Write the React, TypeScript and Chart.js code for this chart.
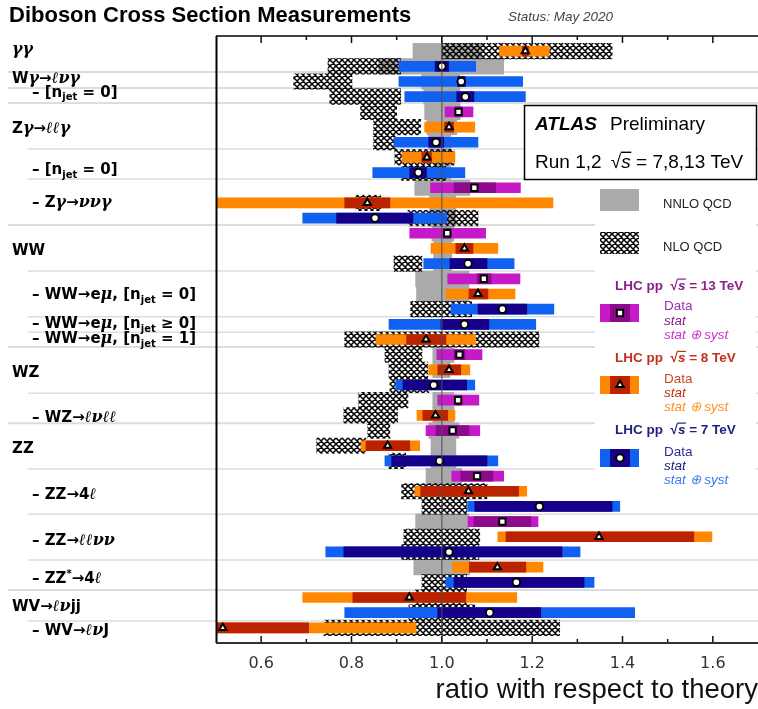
import React, { useEffect, useRef } from 'react';
import { Chart, registerables } from 'chart.js';

Chart.register(...registerables);

// ---------------- axis / texts ----------------
const xMin = 0.5;
const xMax = 1.7;
const rowMin = -1;
const rowMax = 39;
const xTickLabels = ['0.6', '0.8', '1.0', '1.2', '1.4', '1.6'];
const axisTitle = 'ratio with respect to theory';
const chartTitle = 'Diboson Cross Section Measurements';
const statusText = 'Status: May 2020';

// ---------------- 13 TeV ----------------
const rows13 = [4, 9, 12, 15, 20, 23, 25, 28, 31];
const central13 = [1.037, 1.072, 1.012, 1.093, 1.039, 1.036, 1.024, 1.078, 1.134];
const stat13 = [[1.030, 1.045], [1.027, 1.119], [1.004, 1.020], [1.078, 1.109], [1.027, 1.051], [1.030, 1.043], [0.987, 1.060], [1.042, 1.113], [1.071, 1.197]];
const total13 = [[1.007, 1.069], [0.975, 1.174], [0.929, 1.097], [1.013, 1.173], [0.989, 1.089], [0.991, 1.082], [0.965, 1.084], [1.022, 1.137], [1.058, 1.213]];

// ---------------- 8 TeV ----------------
const rows8 = [0, 5, 7, 10, 13, 16, 19, 21, 24, 26, 29, 32, 34, 36, 38];
const central8 = [1.185, 1.016, 0.967, 0.835, 1.050, 1.080, 0.965, 1.016, 0.986, 0.880, 1.059, 1.348, 1.123, 0.928, 0.515];
const stat8 = [[1.178, 1.192], [1.006, 1.026], [0.956, 0.977], [0.785, 0.885], [1.031, 1.069], [1.060, 1.102], [0.922, 1.009], [0.991, 1.042], [0.958, 1.013], [0.832, 0.929], [0.953, 1.170], [1.142, 1.558], [1.061, 1.186], [0.803, 1.053], [0.330, 0.705]];
const total8 = [[1.128, 1.238], [0.962, 1.073], [0.912, 1.029], [0.420, 1.246], [0.976, 1.124], [1.009, 1.162], [0.854, 1.075], [0.971, 1.062], [0.945, 1.029], [0.821, 0.951], [0.940, 1.188], [1.124, 1.598], [1.024, 1.224], [0.692, 1.166], [0.300, 0.943]];

// ---------------- 7 TeV ----------------
const rows7 = [1, 2, 3, 6, 8, 11, 14, 17, 18, 22, 27, 30, 33, 35, 37];
const central7 = [1.000, 1.043, 1.052, 0.987, 0.948, 0.852, 1.058, 1.134, 1.050, 0.982, 0.995, 1.216, 1.016, 1.165, 1.106];
const stat7 = [[0.985, 1.015], [1.035, 1.052], [1.033, 1.071], [0.971, 1.004], [0.929, 0.966], [0.767, 0.936], [1.018, 1.100], [1.080, 1.188], [0.998, 1.104], [0.914, 1.055], [0.889, 1.100], [1.073, 1.377], [0.783, 1.266], [1.027, 1.315], [0.991, 1.219]];
const total7 = [[0.905, 1.075], [0.905, 1.179], [0.918, 1.185], [0.894, 1.080], [0.847, 1.051], [0.692, 1.011], [0.960, 1.160], [1.020, 1.248], [0.883, 1.208], [0.898, 1.073], [0.874, 1.124], [1.057, 1.394], [0.743, 1.306], [1.009, 1.337], [0.785, 1.427]];

// ---------------- theory bands ----------------
const nnloRows = [0, 1, 2, 3, 4, 5, 6, 7, 8, 9, 10, 11, 12, 13, 14, 15, 16, 20, 21, 23, 24, 25, 26, 27, 28, 31, 34];
const nnloBand = [[0.936, 1.089], [0.860, 1.137], [0.955, 1.040], [0.960, 1.040], [0.962, 1.040], [0.967, 1.033], [0.971, 1.020], [0.985, 1.022], [0.985, 1.020], [0.940, 1.062], [0.973, 1.031], [0.973, 1.031], [0.978, 1.027], [0.982, 1.022], [0.982, 1.022], [0.942, 1.060], [0.944, 1.060], [0.980, 1.027], [0.980, 1.018], [0.980, 1.027], [0.980, 1.027], [0.971, 1.038], [0.976, 1.031], [0.976, 1.031], [0.965, 1.044], [0.942, 1.060], [0.938, 1.062]];
const nloRows = [0, 1, 2, 3, 4, 5, 6, 7, 8, 10, 11, 14, 17, 19, 20, 21, 22, 23, 24, 25, 26, 27, 29, 30, 32, 33, 35, 36, 37, 38];
const nloBand = [[1.000, 1.377], [0.748, 0.909], [0.672, 0.801], [0.752, 0.909], [0.820, 0.900], [0.849, 0.953], [0.849, 0.898], [0.896, 1.027], [0.911, 1.009], [0.810, 0.865], [0.925, 1.080], [0.894, 0.956], [0.931, 1.066], [0.785, 1.215], [0.874, 0.956], [0.883, 0.969], [0.885, 0.971], [0.816, 0.925], [0.783, 0.902], [0.836, 0.885], [0.723, 0.832], [0.883, 0.920], [0.911, 1.100], [0.956, 1.055], [0.916, 1.084], [0.911, 1.082], [0.956, 1.055], [0.942, 1.055], [0.927, 1.073], [0.739, 1.261]];

// ---------------- row labels ----------------
const labelTexts = [
  'γγ', 'Wγ→ℓνγ', '– [n_{jet} = 0]', 'Zγ→ℓℓγ', '– [n_{jet} = 0]', '– Zγ→ννγ',
  'WW', '– WW→eμ, [n_{jet} = 0]', '– WW→eμ, [n_{jet} ≥ 0]', '– WW→eμ, [n_{jet} = 1]',
  'WZ', '– WZ→ℓνℓℓ', 'ZZ', '– ZZ→4ℓ', '– ZZ→ℓℓνν', '– ZZ^{*}→4ℓ', 'WV→ℓνjj', '– WV→ℓνJ',
];
const labelRows = [0.206, 2.117, 3.0, 5.372, 8.114, 10.288, 13.432, 16.351, 18.262, 19.25, 21.491, 24.417, 26.46, 29.511, 32.542, 35.026, 36.891, 38.473];
const labelLevel = [0, 0, 1, 0, 1, 1, 0, 1, 1, 1, 0, 1, 0, 1, 1, 1, 0, 1];

// separators (row units) and whether they are group separators
const sepRows = [1.37, 2.43, 3.42, 6.45, 8.42, 11.45, 14.49, 17.5, 18.53, 19.49, 22.55, 24.52, 27.53, 30.52, 33.53, 35.51, 37.55];
const sepGroup = [1, 1, 1, 0, 0, 1, 0, 0, 0, 1, 0, 1, 0, 0, 0, 1, 0];

// ---------------- legend texts ----------------
const legendEnergies = ['13', '8', '7'];
const legendLines = ['Data', 'stat', 'stat ⊕ syst'];
const theoryNames = ['NNLO QCD', 'NLO QCD'];

// ---------------- styles ----------------
const C13 = { total: '#c619c8', stat: '#8c0a8c', head: '#8b1e8b', data: '#9a32ad', statT: '#8b1a8b', syst: '#cc33cc', shape: 'rect' };
const C8 = { total: '#ff8800', stat: '#bb2200', head: '#c0301c', data: '#cc4a22', statT: '#c03010', syst: '#ff9020', shape: 'triangle' };
const C7 = { total: '#1060f2', stat: '#16008a', head: '#1e1e80', data: '#302a9a', statT: '#1e1a78', syst: '#3a78f0', shape: 'circle' };
const GRAY = '#aaaaaa';

function makeHatch(ctx: CanvasRenderingContext2D): CanvasPattern | string {
  const c = document.createElement('canvas');
  c.width = 6;
  c.height = 6;
  const g = c.getContext('2d');
  if (!g) return '#000';
  g.strokeStyle = '#000';
  g.lineWidth = 1.5;
  g.beginPath();
  for (let k = -2; k <= 2; k++) {
    g.moveTo(k * 6 - 6, -6);
    g.lineTo(k * 6 + 12, 12);
    g.moveTo(k * 6 + 12, -6);
    g.lineTo(k * 6 - 6, 12);
  }
  g.stroke();
  return ctx.createPattern(c, 'repeat') || '#000';
}

function drawMarker(ctx: CanvasRenderingContext2D, shape: string, x: number, y: number, r: number) {
  ctx.save();
  ctx.fillStyle = '#fff';
  ctx.strokeStyle = '#000';
  ctx.lineWidth = 2;
  ctx.beginPath();
  if (shape === 'circle') {
    ctx.arc(x, y, r, 0, Math.PI * 2);
  } else if (shape === 'rect') {
    const s = r * Math.SQRT1_2;
    ctx.rect(x - s, y - s, 2 * s, 2 * s);
  } else {
    for (let k = 0; k < 3; k++) {
      const a = (k * 2 * Math.PI) / 3;
      const px = x + Math.sin(a) * r;
      const py = y - Math.cos(a) * r;
      if (k === 0) ctx.moveTo(px, py);
      else ctx.lineTo(px, py);
    }
    ctx.closePath();
  }
  ctx.fill();
  ctx.stroke();
  ctx.restore();
}

const GREEK = 'γνℓμ';
function drawRich(ctx: CanvasRenderingContext2D, text: string, x: number, y: number) {
  const parts: { t: string; k: string }[] = [];
  let i = 0;
  while (i < text.length) {
    if ((text[i] === '_' || text[i] === '^') && text[i + 1] === '{') {
      const end = text.indexOf('}', i);
      parts.push({ t: text.slice(i + 2, end), k: text[i] === '_' ? 'sub' : 'sup' });
      i = end + 1;
      continue;
    }
    const k = GREEK.includes(text[i]) ? 'g' : 'n';
    const last = parts[parts.length - 1];
    if (last && last.k === k) last.t += text[i];
    else parts.push({ t: text[i], k });
    i++;
  }
  let cx = x;
  ctx.textAlign = 'left';
  ctx.textBaseline = 'alphabetic';
  for (const p of parts) {
    let dy = 0;
    if (p.k === 'g') ctx.font = 'italic bold 16px "DejaVu Serif"';
    else if (p.k === 'sub') { ctx.font = 'bold 10px "DejaVu Sans"'; dy = 3.5; }
    else if (p.k === 'sup') { ctx.font = 'bold 10px "DejaVu Sans"'; dy = -6; }
    else ctx.font = 'bold 15px "DejaVu Sans"';
    ctx.fillText(p.t, cx, y + dy);
    cx += ctx.measureText(p.t).width;
  }
}

// draws "√s" with an overline; returns width
function drawSqrtS(ctx: CanvasRenderingContext2D, x: number, y: number, size: number, weight: string, family: string) {
  ctx.font = `${weight} ${size}px ${family}`;
  ctx.fillText('√', x, y);
  const w1 = ctx.measureText('√').width;
  ctx.font = `italic ${weight} ${size}px ${family}`;
  ctx.fillText('s', x + w1, y);
  const w2 = ctx.measureText('s').width;
  ctx.save();
  ctx.strokeStyle = ctx.fillStyle as string;
  ctx.lineWidth = size > 16 ? 1.4 : 1.2;
  ctx.beginPath();
  ctx.moveTo(x + w1 - 0.5, y - size * 0.8);
  ctx.lineTo(x + w1 + w2 + 0.5, y - size * 0.8);
  ctx.stroke();
  ctx.restore();
  return w1 + w2;
}

const decorPlugin = {
  id: 'decor',
  beforeDatasetsDraw(chart: any) {
    const { ctx } = chart;
    const ys = chart.scales.y;
    ctx.save();
    ctx.strokeStyle = '#dddddd';
    sepRows.forEach((r, i) => {
      const y = ys.getPixelForValue(r);
      ctx.lineWidth = sepGroup[i] ? 2 : 1.5;
      ctx.beginPath();
      ctx.moveTo(sepGroup[i] ? 8 : 28, y);
      ctx.lineTo(chart.width, y);
      ctx.stroke();
    });
    ctx.restore();
  },
  afterDatasetsDraw(chart: any) {
    const { ctx, chartArea: ca } = chart;
    const xs = chart.scales.x;
    ctx.save();
    const x1 = xs.getPixelForValue(1);
    ctx.strokeStyle = 'rgba(80,80,80,0.85)';
    ctx.lineWidth = 1.2;
    ctx.beginPath();
    ctx.moveTo(x1, ca.top);
    ctx.lineTo(x1, ca.bottom);
    ctx.stroke();
    // ticks
    xs.ticks.forEach((t: any) => {
      const v = t.value;
      if (v <= xMin + 1e-6 || v >= xMax - 1e-6) return;
      const px = xs.getPixelForValue(v);
      const major = Math.round(v * 10) % 2 === 0;
      const len = major ? 7 : 4;
      ctx.lineWidth = 1.5;
      ctx.strokeStyle = '#111';
      ctx.beginPath();
      ctx.moveTo(px, ca.top);
      ctx.lineTo(px, ca.top + len);
      ctx.moveTo(px, ca.bottom);
      ctx.lineTo(px, ca.bottom - len);
      ctx.stroke();
    });
    // frame
    ctx.strokeStyle = '#000';
    ctx.lineWidth = 1.5;
    ctx.beginPath();
    ctx.moveTo(ca.left, ca.top);
    ctx.lineTo(chart.width, ca.top);
    ctx.stroke();
    ctx.lineWidth = 2;
    ctx.beginPath();
    ctx.moveTo(ca.left + 0.5, ca.top);
    ctx.lineTo(ca.left + 0.5, ca.bottom);
    ctx.stroke();
    ctx.strokeStyle = '#333';
    ctx.beginPath();
    ctx.moveTo(ca.left, ca.bottom);
    ctx.lineTo(chart.width, ca.bottom);
    ctx.stroke();
    ctx.restore();
  },
  afterDraw(chart: any) {
    const { ctx } = chart;
    const ys = chart.scales.y;
    ctx.save();
    // titles
    ctx.fillStyle = '#000';
    ctx.textAlign = 'left';
    ctx.textBaseline = 'alphabetic';
    ctx.font = 'bold 22px "Liberation Sans"';
    ctx.fillText(chartTitle, 9, 22);
    ctx.fillStyle = '#444';
    ctx.font = 'italic 13.5px "Liberation Sans"';
    ctx.fillText(statusText, 508, 20.5);

    // row labels
    ctx.fillStyle = '#000';
    labelTexts.forEach((t, i) => {
      drawRich(ctx, t, labelLevel[i] ? 32 : 12, ys.getPixelForValue(labelRows[i]));
    });

    // ATLAS box
    ctx.fillStyle = '#fff';
    ctx.fillRect(524, 105, 233, 75);
    ctx.strokeStyle = '#000';
    ctx.lineWidth = 1.5;
    ctx.strokeRect(524.5, 105.5, 232, 74);
    ctx.fillStyle = '#000';
    ctx.font = 'italic bold 19px "Liberation Sans"';
    ctx.fillText('ATLAS', 535, 130);
    ctx.font = '19px "Liberation Sans"';
    ctx.fillText('Preliminary', 610, 130);
    ctx.fillText('Run 1,2', 535, 167.5);
    let cx = 535 + ctx.measureText('Run 1,2 ').width + 4;
    cx += drawSqrtS(ctx, cx, 167.5, 19, '', '"Liberation Sans"');
    ctx.font = '19px "Liberation Sans"';
    ctx.fillText(' = 7,8,13 TeV', cx, 167.5);

    // legend area
    ctx.fillStyle = '#fff';
    ctx.fillRect(595, 182, 161, 294);
    // theory swatches
    ctx.fillStyle = GRAY;
    ctx.fillRect(600, 189, 39, 22);
    ctx.fillStyle = chart.$hatch;
    ctx.fillRect(600, 232, 39, 22);
    ctx.fillStyle = '#222';
    ctx.font = '13px "Liberation Sans"';
    ctx.fillText(theoryNames[0], 663, 207.7);
    ctx.fillText(theoryNames[1], 663, 251.4);

    const styles = [C13, C8, C7];
    const heads = [289.9, 362.2, 433.9];
    const swTop = [304, 376, 449];
    const lineY = [[309.5, 324.5, 338.5], [382.8, 397.2, 410.5], [456.2, 470.2, 483.8]];
    styles.forEach((st, k) => {
      ctx.fillStyle = st.head;
      ctx.font = 'bold 13.5px "Liberation Sans"';
      const lhc = 'LHC pp  ';
      ctx.fillText(lhc, 615, heads[k]);
      let hx = 615 + ctx.measureText(lhc).width;
      hx += drawSqrtS(ctx, hx, heads[k], 13.5, 'bold', '"Liberation Sans"');
      ctx.font = 'bold 13.5px "Liberation Sans"';
      ctx.fillText(` = ${legendEnergies[k]} TeV`, hx, heads[k]);
      // swatch
      ctx.fillStyle = st.total;
      ctx.fillRect(600, swTop[k], 39, 18);
      ctx.fillStyle = st.stat;
      ctx.fillRect(610, swTop[k], 20, 18);
      drawMarker(ctx, st.shape, 620, swTop[k] + 9, st.shape === 'rect' ? 4.5 : st.shape === 'triangle' ? 4.2 : 3.8);
      // text lines
      ctx.fillStyle = st.data;
      ctx.font = '13.5px "Liberation Sans"';
      ctx.fillText(legendLines[0], 664, lineY[k][0]);
      ctx.fillStyle = st.statT;
      ctx.font = 'italic 13.5px "Liberation Sans"';
      ctx.fillText(legendLines[1], 664, lineY[k][1]);
      ctx.fillStyle = st.syst;
      ctx.fillText(legendLines[2], 664, lineY[k][2]);
    });
    ctx.restore();
  },
};

const toBars = (rows: number[], ranges: number[][]) => rows.map((r, i) => ({ y: r, x: ranges[i] }));
const toPts = (rows: number[], vals: number[]) => rows.map((r, i) => ({ x: vals[i], y: r }));

export default function App() {
  const ref = useRef<HTMLCanvasElement>(null);
  useEffect(() => {
    const canvas = ref.current;
    if (!canvas) return;
    const ctx = canvas.getContext('2d');
    if (!ctx) return;
    const hatch = makeHatch(ctx);

    const barCommon = { grouped: false, borderWidth: 0, borderSkipped: false };
    const measBar = (label: string, data: any[], color: string, order: number) => ({
      type: 'bar', label, data, backgroundColor: color, barThickness: 10, order, ...barCommon,
    });
    const pts = (label: string, data: any[], shape: string, r: number) => ({
      type: 'scatter', label, data, indexAxis: 'x', pointStyle: shape, pointRadius: r,
      pointBackgroundColor: '#fff', pointBorderColor: '#000', pointBorderWidth: 2, order: 0,
    });

    const chart: any = new Chart(ctx, {
      type: 'bar',
      data: {
        datasets: [
          pts('13 TeV', toPts(rows13, central13), 'rect', 4.5),
          pts('8 TeV', toPts(rows8, central8), 'triangle', 4.2),
          pts('7 TeV', toPts(rows7, central7), 'circle', 3.8),
          measBar('13 TeV stat', toBars(rows13, stat13), C13.stat, 1),
          measBar('8 TeV stat', toBars(rows8, stat8), C8.stat, 1),
          measBar('7 TeV stat', toBars(rows7, stat7), C7.stat, 1),
          measBar('13 TeV total', toBars(rows13, total13), C13.total, 2),
          measBar('8 TeV total', toBars(rows8, total8), C8.total, 2),
          measBar('7 TeV total', toBars(rows7, total7), C7.total, 2),
          { type: 'bar', label: 'NLO QCD', data: toBars(nloRows, nloBand), backgroundColor: hatch, barThickness: 15.5, order: 3, ...barCommon },
          { type: 'bar', label: 'NNLO QCD', data: toBars(nnloRows, nnloBand), backgroundColor: GRAY, barThickness: 15.5, order: 4, ...barCommon },
        ] as any,
      },
      options: {
        animation: false,
        responsive: false,
        events: [],
        indexAxis: 'y',
        layout: { autoPadding: false, padding: { left: 216, top: 36, right: 0, bottom: 0 } },
        plugins: { legend: { display: false }, tooltip: { enabled: false }, title: { display: false } },
        scales: {
          x: {
            type: 'linear',
            min: xMin,
            max: xMax,
            offset: false,
            grid: { display: false, drawTicks: true, tickLength: 11, drawOnChartArea: false, offset: false },
            border: { display: false },
            ticks: {
              stepSize: 0.1,
              autoSkip: false,
              maxRotation: 0,
              padding: 0,
              color: '#333',
              font: { family: 'DejaVu Sans', size: 16 },
              callback: (v: any) => {
                const s = Number(v).toFixed(1);
                return xTickLabels.includes(s) ? s : '';
              },
            },
            title: {
              display: true,
              text: axisTitle,
              align: 'end',
              color: '#111',
              font: { family: 'Liberation Sans', size: 27.5, lineHeight: 1.12 },
              padding: { top: 1.5, bottom: 3.5 },
            },
          },
          y: {
            type: 'linear',
            min: rowMin,
            max: rowMax,
            reverse: true,
            display: false,
            offset: false,
            grid: { offset: false },
          },
        },
      } as any,
      plugins: [decorPlugin as any],
    });
    chart.$hatch = hatch;
    chart.draw();
    return () => chart.destroy();
  }, []);

  return (
    <div style={{ position: 'fixed', left: 0, top: 0, width: 758, height: 709, background: '#fff' }}>
      <canvas ref={ref} width={758} height={709} style={{ display: 'block', width: 758, height: 709 }} />
    </div>
  );
}
